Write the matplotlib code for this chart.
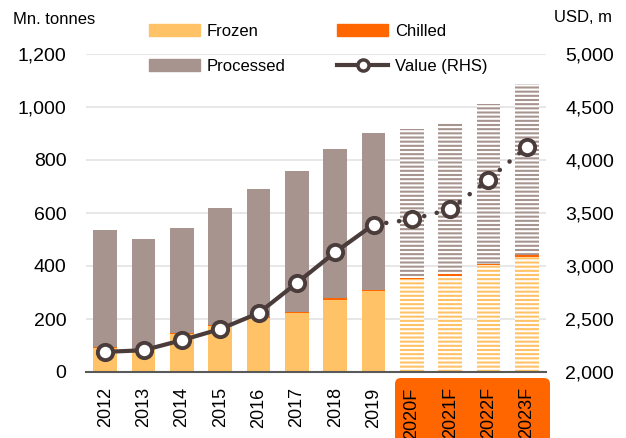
import matplotlib.pyplot as plt
import numpy as np
from matplotlib.patches import Patch, FancyBboxPatch
from matplotlib.lines import Line2D

plt.rcParams['font.family'] = ['Liberation Sans', 'DejaVu Sans']
plt.rcParams['hatch.linewidth'] = 1.5

# dados
anos = ['2012', '2013', '2014', '2015', '2016', '2017', '2018', '2019',
        '2020F', '2021F', '2022F', '2023F']
frozen = [90, 85, 145, 175, 205, 222, 272, 305, 350, 364, 402, 434]
chilled = [4, 3, 3, 3, 4, 4, 6, 6, 5, 6, 6, 7]
processed = [443, 415, 395, 442, 483, 532, 563, 591, 562, 573, 602, 646]
valor = [2190, 2205, 2300, 2405, 2555, 2840, 3130, 3390, 3440, 3535, 3815, 4125]
n_hist = 8

c_frozen = '#ffc266'
c_chilled = '#ff6600'
c_proc = '#a8948f'
c_linha = '#4a3c3a'

fig = plt.figure(figsize=(6.26, 4.38), dpi=100)
ax = fig.add_axes([86/626, 66/438, 460/626, 318/438])
ax2 = ax.twinx()

x = np.arange(len(anos))
f = np.array(frozen)
c = np.array(chilled)
p = np.array(processed)
w = 0.625

for i in x:
    hatch = None if i < n_hist else '----'
    ax.bar(i, f[i], w, color=c_frozen, edgecolor='white', linewidth=0, hatch=hatch)
    ax.bar(i, c[i], w, bottom=f[i], color=c_chilled, linewidth=0)
    ax.bar(i, p[i], w, bottom=f[i] + c[i], color=c_proc, edgecolor='white',
           linewidth=0, hatch=hatch)

ax.set_xlim(-0.5, len(anos) - 0.5)
ax.set_ylim(0, 1200)
ax.set_yticks(np.arange(0, 1201, 200))
ax.set_yticklabels([f'{v:,}' for v in range(0, 1201, 200)])
ax.set_xticks(x)
ax.set_xticklabels(anos, rotation=90, fontsize=13)
ax.grid(axis='y', color='#e3e3e3', linewidth=1.2)
ax.set_axisbelow(True)
ax.tick_params(axis='y', length=0, pad=14, labelsize=14)
ax.tick_params(axis='x', length=0, pad=11)
for s in ['top', 'left', 'right']:
    ax.spines[s].set_visible(False)
ax.spines['bottom'].set_color('#595959')
ax.spines['bottom'].set_linewidth(1.5)

# linha de valor (eixo direito)
ax2.plot(x[:n_hist], valor[:n_hist], color=c_linha, lw=3, zorder=2)
ax2.plot(x[n_hist - 1:], valor[n_hist - 1:], color=c_linha, lw=3.3,
         linestyle=(0, (0.01, 2.8)), dash_capstyle='round', zorder=2)
ax2.plot(x, valor, 'o', color=c_linha, markerfacecolor='white', markersize=11,
         markeredgewidth=2.8, zorder=3)
ax2.set_ylim(2000, 5000)
ax2.set_yticks(np.arange(2000, 5001, 500))
ax2.set_yticklabels([f'{v:,}' for v in range(2000, 5001, 500)])
ax2.tick_params(axis='y', length=0, pad=14, labelsize=14)
for s in ['top', 'left', 'right', 'bottom']:
    ax2.spines[s].set_visible(False)

fig.text(13/626, 1 - 20/438, 'Mn. tonnes', fontsize=12, va='center', ha='left')
fig.text(612/626, 1 - 18/438, 'USD, m', fontsize=12, va='center', ha='right')

# caixa laranja das previsões
caixa = FancyBboxPatch((3.95, -0.3), 1.55, 0.9, boxstyle='round,pad=0,rounding_size=0.06',
                       transform=fig.dpi_scale_trans, facecolor=c_chilled,
                       edgecolor='none', zorder=-1)
fig.patches.append(caixa)

handles = [Patch(color=c_frozen, label='Frozen'),
           Patch(color=c_proc, label='Processed'),
           Patch(color=c_chilled, label='Chilled'),
           Line2D([0], [0], color=c_linha, lw=3, marker='o', markerfacecolor='white',
                  markersize=8, markeredgewidth=2.5, label='Value (RHS)')]
fig.legend(handles=handles, ncol=2, loc='upper left', bbox_to_anchor=(149/626, 1 - 24/438),
           frameon=False, fontsize=12, borderpad=0, borderaxespad=0,
           handlelength=3.05, handletextpad=0.42, columnspacing=3.1, labelspacing=1.2)

fig.savefig('out.png', dpi=100)
